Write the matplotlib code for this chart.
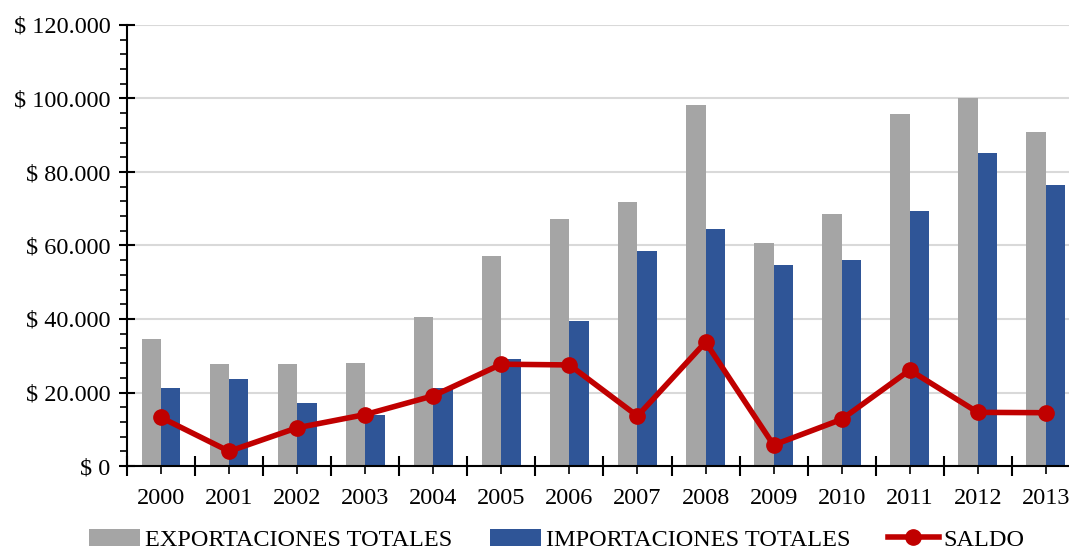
import matplotlib
matplotlib.use("Agg")
import matplotlib.pyplot as plt
import numpy as np
from matplotlib.ticker import FuncFormatter, MultipleLocator, FixedLocator

years = ["2000", "2001", "2002", "2003", "2004", "2005", "2006",
         "2007", "2008", "2009", "2010", "2011", "2012", "2013"]
exportaciones = [34500, 27800, 27700, 27900, 40600, 57100, 67100,
                 71900, 98200, 60600, 68700, 95700, 100200, 91000]
importaciones = [21100, 23800, 17100, 13900, 21300, 29200, 39500,
                 58400, 64400, 54800, 56000, 69400, 85300, 76400]
saldo = [13200, 4000, 10400, 14000, 19100, 27700, 27500,
         13600, 33700, 5700, 12700, 26100, 14600, 14500]

plt.rcParams['font.family'] = ['Liberation Serif', 'DejaVu Serif']
FS = 17.5

fig = plt.figure(figsize=(10.69, 5.56), dpi=100)
ax = fig.add_axes([127/1069, 1 - 466/556, 1 - 127/1069, (466 - 25)/556])

x = np.arange(len(years))
w = 0.285
b1 = ax.bar(x - w/2, exportaciones, width=w, color='#A5A5A5', label='EXPORTACIONES TOTALES', zorder=2)
b2 = ax.bar(x + w/2, importaciones, width=w, color='#2F5597', label='IMPORTACIONES TOTALES', zorder=2)
l1, = ax.plot(x, saldo, color='#C00000', lw=4, marker='o', ms=11, label='SALDO', zorder=3)

ax.set_ylim(0, 120000)
ax.set_xlim(-0.5, 13.34)
ax.yaxis.set_major_locator(MultipleLocator(20000))
ax.yaxis.set_minor_locator(MultipleLocator(4000))
ax.yaxis.set_major_formatter(FuncFormatter(lambda v, p: "$ " + f"{int(v):,}".replace(",", ".")))
ax.grid(axis='y', color='#D9D9D9', lw=1.5, zorder=0)
ax.set_axisbelow(True)

ax.xaxis.set_major_locator(FixedLocator(np.arange(-0.5, 13.6, 1.0)))
ax.xaxis.set_minor_locator(FixedLocator(x))
ax.xaxis.set_major_formatter(FuncFormatter(lambda v, p: ""))
ax.xaxis.set_minor_formatter(FuncFormatter(lambda v, p: years[int(round(v))] if 0 <= round(v) < len(years) else ""))

for s in ['top', 'right']:
    ax.spines[s].set_visible(False)
for s in ['left', 'bottom']:
    ax.spines[s].set_linewidth(1.5)
    ax.spines[s].set_color('black')

ax.tick_params(axis='y', which='major', direction='inout', length=12, width=1.5, labelsize=FS, pad=6)
ax.tick_params(axis='y', which='minor', direction='out', length=5, width=1.2)
ax.tick_params(axis='x', which='major', direction='inout', length=14, width=1.5)
ax.tick_params(axis='x', which='minor', direction='out', length=6, width=1.2, labelsize=FS, pad=10)

fig.legend(handles=[b1, b2, l1], loc='lower center', bbox_to_anchor=(0.521, -0.03), ncol=3, frameon=False,
           fontsize=17.5, handlelength=2.1, handletextpad=0.2, columnspacing=1.55)

fig.savefig("out.png", dpi=100)
